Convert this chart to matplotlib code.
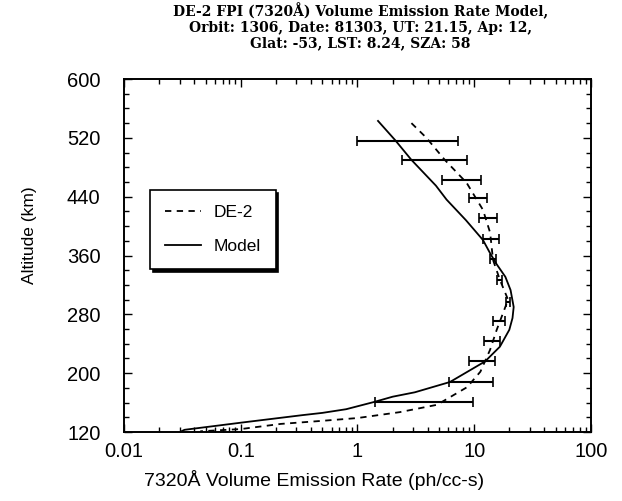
import numpy as np
import matplotlib
matplotlib.use("Agg")
import matplotlib.pyplot as plt
from matplotlib.ticker import LogLocator, AutoMinorLocator, FixedLocator, NullFormatter

# Model curve (solid)
model_rate = [1.5, 2.1, 2.9, 4.7, 5.8, 8.5, 11.9, 13.7, 15.6, 18.5, 20.5, 21.8, 21.3, 20.0, 16.6, 12.4,
              6.2, 3.1, 2.0, 1.4, 0.8, 0.5, 0.34, 0.104, 0.033, 0.031]
model_alt = [543, 517, 490, 455, 436, 408, 381, 363, 348, 331, 313, 290, 275, 259, 236, 216,
             188, 174, 168, 161, 151, 146, 143, 133, 123, 121]

# DE-2 curve (dashed)
de2_rate = [2.9, 3.9, 5.6, 8.6, 11.9, 13.7, 14.5, 16.6, 19.5, 17.7, 15.6, 13.7, 11.3, 8.7, 4.8, 2.3,
            1.0, 0.48, 0.22, 0.1, 0.045]
de2_alt = [540, 520, 490, 459, 422, 391, 354, 327, 300, 282, 259, 232, 202, 181, 157, 147,
           139, 135, 131, 124, 121]

# Error bars
err_alt = [516, 490, 463, 438, 411, 383, 355, 327, 297, 271, 244, 217, 188, 161]
err_center = [4.1, 5.5, 8.4, 11.0, 13.3, 14.1, 14.5, 16.4, 19.5, 16.5, 14.4, 12.0, 10.3, 5.6]
err_half = [3.1, 3.1, 3.15, 2.0, 2.4, 2.2, 0.8, 0.8, 0.9, 2.0, 2.3, 3.0, 4.2, 4.2]

yticks = [120, 200, 280, 360, 440, 520, 600]
xticks = [0.01, 0.1, 1, 10, 100]
xticklabels = ["0.01", "0.1", "1", "10", "100"]

title = ("DE-2 FPI (7320\u00c5) Volume Emission Rate Model,\n"
         "Orbit: 1306, Date: 81303, UT: 21.15, Ap: 12,\n"
         "Glat: -53, LST: 8.24, SZA: 58")

fig = plt.figure(figsize=(6.22, 5.01), dpi=100)
ax = fig.add_axes([0.1994, 0.1377, 0.7506, 0.7046])

ax.plot(de2_rate, de2_alt, color="black", lw=1.3, ls=(0, (3.5, 3)), label="DE-2")
ax.plot(model_rate, model_alt, color="black", lw=1.3, label="Model")
ax.errorbar(err_center, err_alt, xerr=err_half, fmt="none", ecolor="black",
            elinewidth=1.5, capsize=3.5, capthick=1.2)

ax.set_xscale("log")
ax.set_xlim(0.01, 100)
ax.set_ylim(120, 600)
ax.xaxis.set_major_locator(FixedLocator(xticks))
ax.set_xticklabels(xticklabels)
ax.xaxis.set_minor_locator(LogLocator(base=10, subs=np.arange(2, 10)))
ax.xaxis.set_minor_formatter(NullFormatter())
ax.set_yticks(yticks)
ax.yaxis.set_minor_locator(AutoMinorLocator(4))

ax.tick_params(which="both", direction="in", top=True, right=True, width=1.0)
ax.tick_params(which="major", length=6, labelsize=14.5)
ax.tick_params(axis="x", which="major", pad=7)
ax.tick_params(axis="y", which="major", pad=17)
ax.tick_params(which="minor", length=3.5)
for lab in ax.get_xticklabels() + ax.get_yticklabels():
    lab.set_family("Liberation Sans")
for s in ax.spines.values():
    s.set_linewidth(1.4)

fig.text(0.505, 0.042, "7320\u00c5 Volume Emission Rate (ph/cc-s)", ha="center", va="center",
         fontsize=14, family="Liberation Sans")
fig.text(0.048, 0.531, "Altitude (km)", ha="center", va="center", rotation=90,
         fontsize=12.5, family="Liberation Sans")

fig.text(0.579, 0.995, title, ha="center", va="top", fontsize=10, family="DejaVu Serif",
         fontweight="bold", linespacing=1.15)

leg = ax.legend(loc="upper left", bbox_to_anchor=(0.056, 0.685), frameon=True, fancybox=False,
                shadow={"color": "black", "alpha": 1}, edgecolor="black", framealpha=1,
                prop={"family": "Liberation Sans", "size": 12.5}, handlelength=2.1,
                handletextpad=0.7, borderpad=0.85, labelspacing=1.1, borderaxespad=0)
leg.get_frame().set_linewidth(1.2)

fig.savefig("out.png", dpi=100)
